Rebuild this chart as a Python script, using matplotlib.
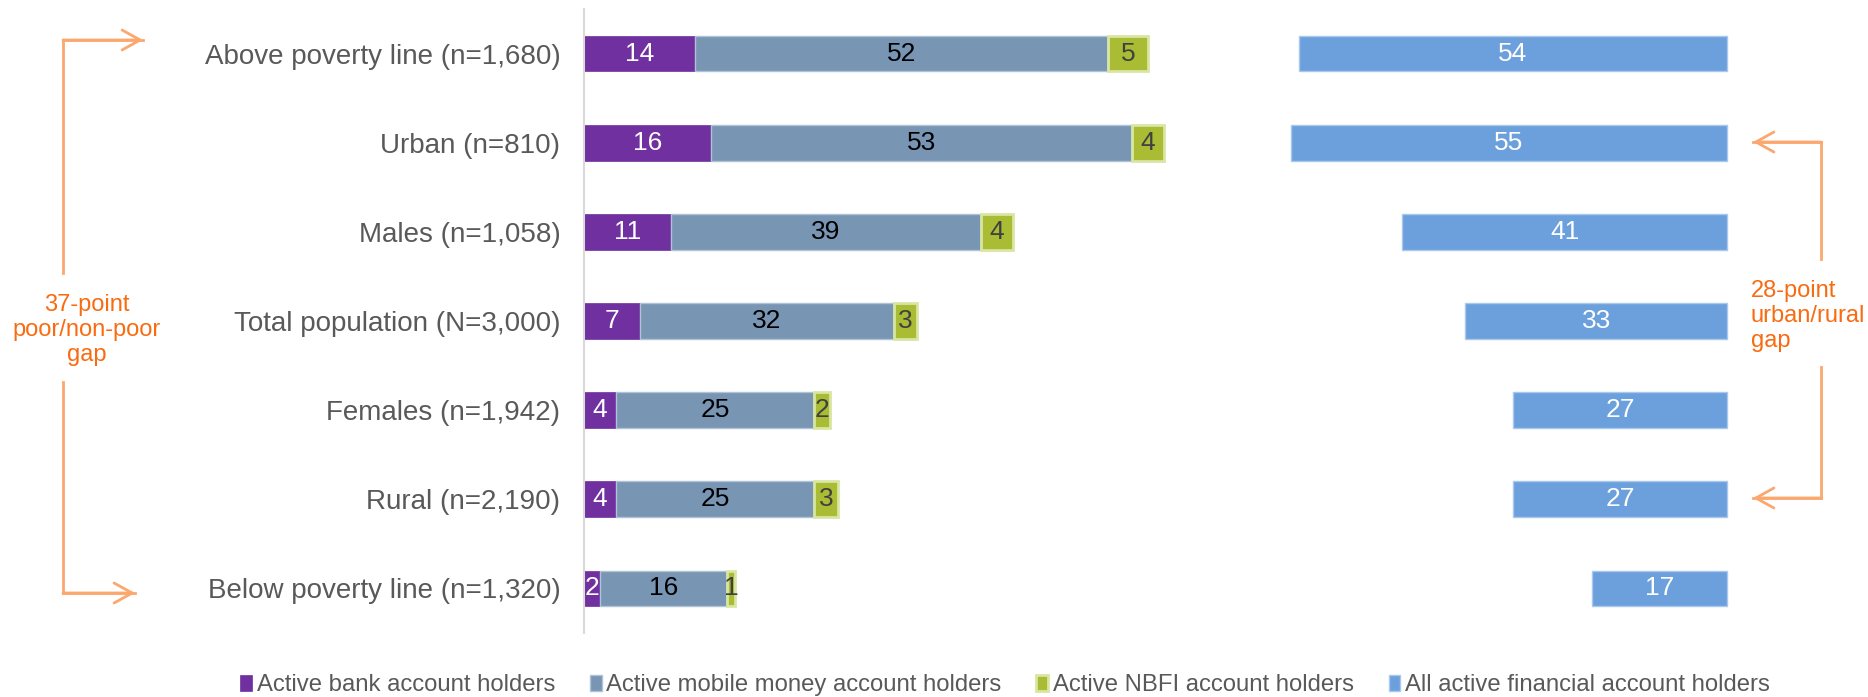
import numpy as np
import matplotlib.pyplot as plt

plt.rcParams['font.family'] = ['Liberation Sans', 'DejaVu Sans']

# Share of each group holding active accounts (%)
categories = [
    'Above poverty line (n=1,680)',
    'Urban (n=810)',
    'Males (n=1,058)',
    'Total population (N=3,000)',
    'Females (n=1,942)',
    'Rural (n=2,190)',
    'Below poverty line (n=1,320)',
]
bank = [14, 16, 11, 7, 4, 4, 2]
mobile = [52, 53, 39, 32, 25, 25, 16]
nbfi = [5, 4, 4, 3, 2, 3, 1]
all_active = [54, 55, 41, 33, 27, 27, 17]

series_names = [
    'Active bank account holders',
    'Active mobile money account holders',
    'Active NBFI account holders',
    'All active financial account holders',
]

C_BANK = '#7030A0'
C_MOBILE = '#7895B4'
C_NBFI = '#A9BC33'
C_ALL = '#6CA0DC'
C_TEXT = '#595959'
C_ORANGE_TXT = '#F96B10'
C_ORANGE_LN = '#FBA76E'

W, H = 1868, 697
fig = plt.figure(figsize=(W / 100, H / 100), dpi=100)

# axis geometry in pixels: x=0 at 584, ~7.94 px per point
x0_px, px_per_unit = 584, 7.94
xmax = 150
top_px, bot_px = 9, 633
ax = fig.add_axes([x0_px / W, 1 - bot_px / H,
                   xmax * px_per_unit / W, (bot_px - top_px) / H])

RIGHT_END = 144  # right-hand bars are aligned on this edge
y = np.arange(len(categories))
h = 0.40

b1 = ax.barh(y, bank, height=h, color=C_BANK, edgecolor=C_BANK, linewidth=0.5)
b2 = ax.barh(y, mobile, left=bank, height=h, color=C_MOBILE,
             edgecolor='#AFC2D6', linewidth=1)
left3 = np.array(bank) + np.array(mobile)
b3 = ax.barh(y, nbfi, left=left3, height=h, color=C_NBFI,
             edgecolor='#D9E6A3', linewidth=2)
right_left = RIGHT_END - np.array(all_active)
b4 = ax.barh(y, all_active, left=right_left, height=h, color=C_ALL,
             edgecolor='#A9C8EC', linewidth=1)

def label_segments(lefts, widths, color):
    for yi, l, w in zip(y, lefts, widths):
        ax.text(l + w / 2, yi, str(w), ha='center', va='center',
                fontsize=19, color=color)

label_segments(np.zeros(len(bank)), bank, 'white')
label_segments(bank, mobile, 'black')
label_segments(left3, nbfi, '#404040')
label_segments(right_left, all_active, 'white')

ax.set_xlim(0, xmax)
ax.set_ylim(len(categories) - 0.5, -0.5)
ax.set_yticks(y)
ax.set_yticklabels(categories, fontsize=20, color=C_TEXT)
ax.tick_params(axis='y', length=0, pad=17)
ax.set_xticks([])
for s in ['top', 'right', 'bottom']:
    ax.spines[s].set_visible(False)
ax.spines['left'].set_color('#D9D9D9')
ax.spines['left'].set_linewidth(1.5)

# legend along the bottom
fig.legend([b1, b2, b3, b4], series_names, loc='center', ncol=4,
           bbox_to_anchor=(1005 / W, 1 - 685 / H), frameon=False,
           fontsize=17.2, labelcolor=C_TEXT, handlelength=0.5,
           handleheight=0.65, handletextpad=0.2, columnspacing=1.45,
           borderpad=0.1)

# gap brackets drawn in figure pixels (y measured from top)
def fp(x, yy):
    return (x, H - yy)

def seg(x1, y1, x2, y2):
    fig.add_artist(plt.Line2D([x1, x2], [H - y1, H - y2], transform=None,
                              color=C_ORANGE_LN, lw=2))

def arrow(x1, y1, x2, y2):
    fig.add_artist(plt.Line2D([x1, x2], [H - y1, H - y2], transform=None,
                              color=C_ORANGE_LN, lw=2))
    ax.annotate('', xy=fp(x2, y2), xytext=fp(x1, y1),
                xycoords='figure pixels', textcoords='figure pixels',
                arrowprops=dict(arrowstyle='->, head_length=1.3, head_width=0.72',
                                color=C_ORANGE_LN, lw=2, shrinkA=0, shrinkB=0))

# poor / non-poor
seg(63, 40, 63, 273)
arrow(63, 40, 143, 40)
seg(63, 382, 63, 593)
arrow(63, 593, 135, 593)
fig.text(87 / W, 1 - 330 / H, '37-point\npoor/non-poor\ngap', ha='center',
         va='center', fontsize=17, color=C_ORANGE_TXT, linespacing=1.2)

# urban / rural
seg(1821, 142, 1821, 259)
arrow(1821, 142, 1753, 142)
seg(1821, 367, 1821, 498)
arrow(1821, 498, 1753, 498)
fig.text(1751 / W, 1 - 316 / H, '28-point\nurban/rural\ngap', ha='left',
         va='center', fontsize=17, color=C_ORANGE_TXT, linespacing=1.15)

fig.savefig('out.png', dpi=100)
